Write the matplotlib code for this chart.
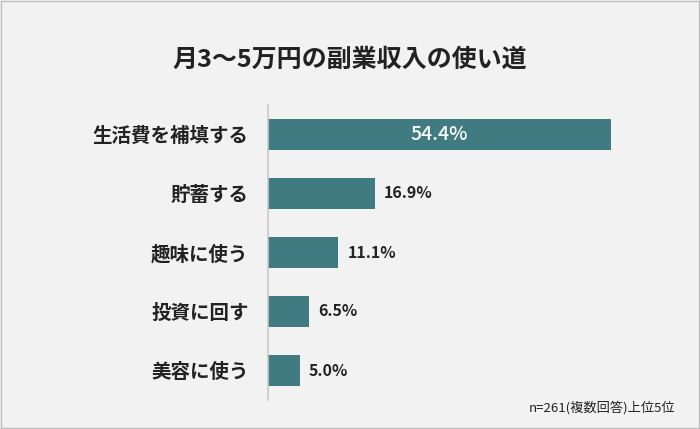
import matplotlib
matplotlib.use("Agg")
import matplotlib.pyplot as plt
from matplotlib.patches import Rectangle

plt.rcParams['font.family'] = ['Noto Sans CJK JP', 'DejaVu Sans']

categories = ["生活費を補填する", "貯蓄する", "趣味に使う", "投資に回す", "美容に使う"]
values = [54.4, 16.9, 11.1, 6.5, 5.0]
title = "月3～5万円の副業収入の使い道"
note = "n=261(複数回答)上位5位"

W, H = 700, 429
fig = plt.figure(figsize=(W/100, H/100), dpi=100)
fig.patch.set_facecolor("#f2f2f2")
fig.add_artist(Rectangle((0.002, 0.003), 0.996, 0.994, transform=fig.transFigure,
                         fill=False, edgecolor="#bdbdbd", linewidth=1))

ax = fig.add_axes([268/W, 1-400/H, 412/W, 295/H])
ax.set_facecolor("none")
scale = 412/((611-268)/54.4)
ax.set_xlim(0, scale)
ypos = list(range(len(categories)))
ax.barh(ypos, values, height=0.52, color="#417b82")
ax.set_ylim(len(categories)-0.5, -0.5)
for s in ["top", "right", "bottom"]:
    ax.spines[s].set_visible(False)
ax.spines["left"].set_color("#c8c8c8")
ax.spines["left"].set_linewidth(1.2)
ax.set_xticks([])
ax.set_yticks(ypos)
ax.set_yticklabels(categories, fontsize=14, fontweight="bold", color="#222222")
ax.tick_params(axis="y", length=0, pad=14)

for i, v in enumerate(values):
    if i == 0:
        ax.text(v/2, i, f"{v}%", ha="center", va="center", color="white",
                fontsize=14, fontweight="medium")
    else:
        ax.text(v + 1.5, i, f"{v}%", ha="left", va="center", color="#222222",
                fontsize=11.5, fontweight="bold")

fig.text(0.5, 1-60/H, title, ha="center", va="center", fontsize=18,
         fontweight="bold", color="#222222")
fig.text(675/W, 1-408/H, note, ha="right", va="center", fontsize=9.5, color="#222222")

fig.savefig("out.png", dpi=100, facecolor=fig.get_facecolor())
